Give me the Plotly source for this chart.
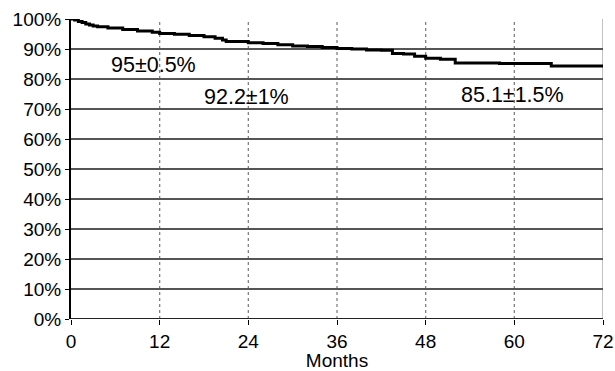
import plotly.graph_objects as go

months = [0, 0.5, 1, 1.5, 2, 2.5, 3, 3.6, 5, 7, 9, 11, 12, 14, 16, 18, 19.5, 20.5, 21, 24, 26, 28, 30, 32, 34, 36, 38, 40, 42, 43.5, 45, 46.5, 48, 50, 52, 58, 65, 72]
survival = [100, 99.7, 99.2, 98.8, 98.3, 98.0, 97.7, 97.4, 97.0, 96.5, 96.0, 95.6, 95.2, 94.9, 94.5, 94.1, 93.6, 93.0, 92.5, 92.1, 91.8, 91.4, 91.0, 90.8, 90.5, 90.2, 90.0, 89.7, 89.6, 88.5, 88.3, 87.6, 86.9, 86.6, 85.3, 85.2, 84.3, 84.3]

x_ticks = [0, 12, 24, 36, 48, 60, 72]
y_ticks = [0, 10, 20, 30, 40, 50, 60, 70, 80, 90, 100]
y_labels = [f"{v}%" for v in y_ticks]

ann_text = ["95±0.5%", "92.2±1%", "85.1±1.5%"]
ann_x = [11.2, 23.8, 59.8]
ann_y = [84.7, 74.0, 74.7]

FONT = "Liberation Sans, Arial, sans-serif"

fig = go.Figure()
fig.add_trace(go.Scatter(x=months, y=survival, mode="lines", line=dict(color="black", width=3, shape="hv"),
                         showlegend=False, hoverinfo="skip"))

for xv in x_ticks[1:-1]:
    fig.add_shape(type="line", x0=xv, x1=xv, y0=0, y1=100, xref="x", yref="y",
                  line=dict(color="#808080", width=1.3, dash="dot"), layer="below")
fig.add_shape(type="line", x0=72, x1=72, y0=0, y1=100, xref="x", yref="y",
              line=dict(color="#9a9a9a", width=1.2), layer="below")

for t, xv, yv in zip(ann_text, ann_x, ann_y):
    fig.add_annotation(x=xv, y=yv, text=t, showarrow=False, xref="x", yref="y",
                       font=dict(size=21.5, color="black", family=FONT))

fig.update_layout(
    width=615, height=371,
    margin=dict(l=71, r=12, t=19, b=52),
    plot_bgcolor="white", paper_bgcolor="white",
    font=dict(family=FONT, size=19, color="black"),
    xaxis=dict(range=[0, 72], tickvals=x_ticks, ticktext=[str(v) for v in x_ticks],
               showgrid=False, zeroline=False, showline=False, automargin=False,
               ticklabeloverflow="allow",
               ticks="outside", ticklen=5, tickcolor="black", tickwidth=1,
               title=dict(text="Months", font=dict(size=19), standoff=6)),
    yaxis=dict(range=[0, 100], tickvals=y_ticks, ticktext=y_labels, automargin=False,
               showgrid=True, gridcolor="#555555", gridwidth=2.2,
               zeroline=False, showline=True, linecolor="black", linewidth=2,
               ticks="outside", ticklen=4, tickcolor="black", tickwidth=1),
)
fig.add_shape(type="line", x0=0, x1=72, y0=0, y1=0, xref="x", yref="y",
              line=dict(color="#222222", width=2))

fig.write_html("out.html", config={"displayModeBar": False},
               post_script="document.body.style.margin='0';")
